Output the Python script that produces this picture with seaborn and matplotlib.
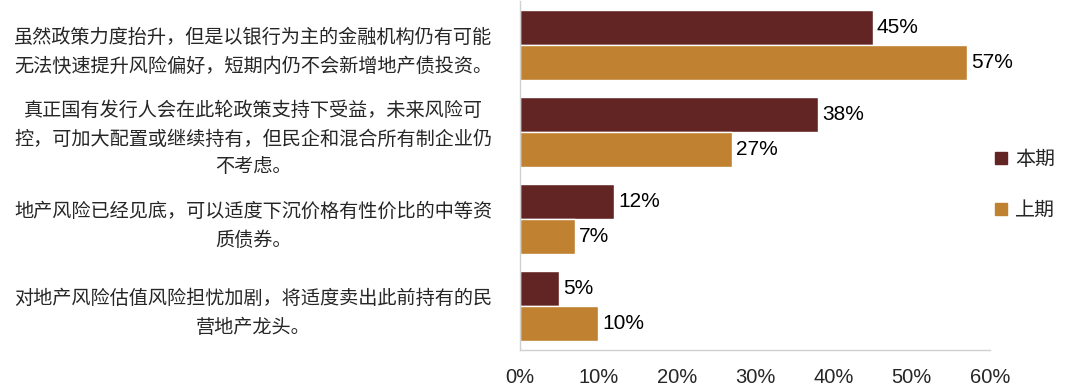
import matplotlib
matplotlib.use("Agg")
import matplotlib.pyplot as plt
from matplotlib.lines import Line2D
import pandas as pd
import seaborn as sns

# data
categories = [
    "虽然政策力度抬升，但是以银行为主的金融机构仍有可能\n无法快速提升风险偏好，短期内仍不会新增地产债投资。",
    "真正国有发行人会在此轮政策支持下受益，未来风险可\n控，可加大配置或继续持有，但民企和混合所有制企业仍\n不考虑。",
    "地产风险已经见底，可以适度下沉价格有性价比的中等资\n质债券。",
    "对地产风险估值风险担忧加剧，将适度卖出此前持有的民\n营地产龙头。",
]
series = ["本期", "上期"]
current = [0.45, 0.38, 0.12, 0.05]
previous = [0.57, 0.27, 0.07, 0.10]
xticks = [0, 0.1, 0.2, 0.3, 0.4, 0.5, 0.6]

colors = {"本期": "#632524", "上期": "#C08230"}

df = pd.DataFrame({
    "cat": categories * 2,
    "period": [series[0]] * 4 + [series[1]] * 4,
    "value": current + previous,
})

sns.set_style("white")
plt.rcParams["font.family"] = ["Liberation Sans", "Noto Sans CJK SC", "DejaVu Sans"]

fig = plt.figure(figsize=(10.8, 3.9), dpi=100)
ax = fig.add_axes([0.4815, 0.1026, 0.4352, 0.8945])

sns.barplot(data=df, y="cat", x="value", hue="period", orient="h",
            palette=colors, width=0.8, saturation=1, ax=ax, legend=False)

for cont, vals in zip(ax.containers, [current, previous]):
    ax.bar_label(cont, labels=[f"{v:.0%}" for v in vals], padding=3,
                 fontsize=15, color="#000000")

ax.set_xlim(0, 0.6)
ax.set_ylim(3.5, -0.5)
ax.set_xticks(xticks)
ax.set_xticklabels([f"{t:.0%}" for t in xticks], fontsize=14.5)
ax.set_xlabel("")
ax.set_ylabel("")

ax.set_yticks(range(len(categories)))
ax.set_yticklabels(categories, fontsize=13.8, ha="center", multialignment="center",
                   linespacing=1.7)
ax.tick_params(axis="y", length=0, pad=192)
ax.tick_params(axis="x", direction="in", length=6, color="#BFBFBF", pad=13)

for s in ["top", "right"]:
    ax.spines[s].set_visible(False)
for s in ["left", "bottom"]:
    ax.spines[s].set_color("#D0D0D0")
    ax.spines[s].set_linewidth(1)

handles = [Line2D([], [], marker="s", linestyle="", markersize=8,
                  color=colors[s]) for s in series]
fig.legend(handles, series, loc="center left", bbox_to_anchor=(0.903, 0.525),
           frameon=False, fontsize=14.4, labelspacing=1.6, handletextpad=0.3,
           handlelength=0.8)

fig.savefig("out.png", dpi=100)
